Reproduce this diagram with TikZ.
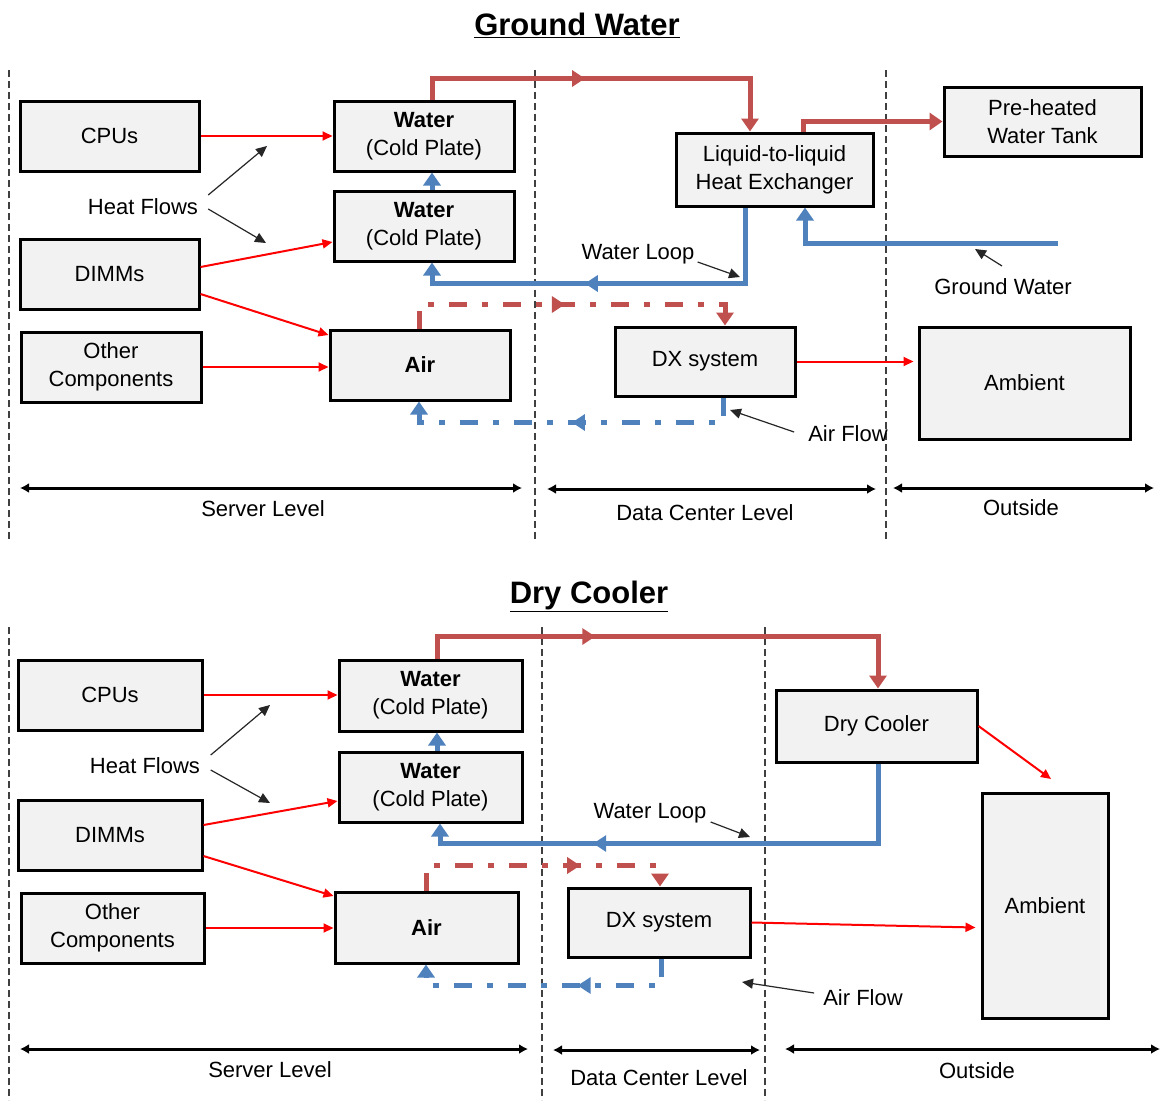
\documentclass[tikz,border=0pt]{standalone}
\usepackage{fontspec}
\setmainfont{Liberation Sans}
\usetikzlibrary{arrows.meta,decorations.markings,calc}
\definecolor{hotc}{HTML}{C0504D}
\definecolor{coldc}{HTML}{4F81BD}
\definecolor{boxfill}{HTML}{F2F2F2}
\definecolor{sepc}{HTML}{404040}
\begin{document}
\begin{tikzpicture}[x=1pt,y=-1pt,
  box/.style={draw=black, line width=3pt, fill=boxfill, inner sep=0pt, align=center,
    font=\fontsize{22}{28}\selectfont},
  lbl/.style={inner sep=1pt, font=\fontsize{22}{27}\selectfont},
  ttl/.style={inner sep=1pt, font=\bfseries\fontsize{31}{36}\selectfont},
  hot/.style={color=hotc, line width=5pt, -{Triangle[length=13pt,width=17pt]}},
  cold/.style={color=coldc, line width=5pt, -{Triangle[length=13pt,width=17pt]}},
  heat/.style={color=red, line width=2pt, -{Triangle[length=10pt,width=9pt]}},
  note/.style={color=black!85, line width=1.2pt, -{Triangle[length=11pt,width=10pt]}},
  level/.style={color=black, line width=3pt, {Latex[length=9pt,width=10pt]}-{Latex[length=9pt,width=10pt]}},
  sep/.style={color=sepc, line width=1.2pt, dash pattern=on 7pt off 4pt},
  dashdot/.style={dash pattern=on 18pt off 15pt on 6pt off 15pt},
  midarr/.style={postaction={decorate}, decoration={markings,
    mark=at position #1 with {\arrow{Triangle[length=13pt,width=16pt]}}}}
]
\useasboundingbox (0,0) rectangle (1161,1103);

% ================= TOP PANEL: GROUND WATER =================
\node[ttl] (tA) at (577,25) {\underline{Ground Water}};

% separators
\coordinate (sA1t) at (9,70);   \coordinate (sA1b) at (9,540);
\coordinate (sA2t) at (535,70); \coordinate (sA2b) at (535,540);
\coordinate (sA3t) at (886,70); \coordinate (sA3b) at (886,540);
\draw[sep] (sA1t) -- (sA1b);
\draw[sep] (sA2t) -- (sA2b);
\draw[sep] (sA3t) -- (sA3b);

% boxes
\node[box, minimum width=179pt, minimum height=70pt] (cpuA) at (109.5,136) {CPUs};
\node[box, minimum width=179pt, minimum height=70pt] (dimmA) at (109.5,274) {DIMMs};
\node[box, minimum width=180pt, minimum height=70pt] (othA) at (111,367) {Other\\Components};
\node[box, minimum width=180pt, minimum height=70pt] (watA1) at (424,136) {\textbf{Water}\\(Cold Plate)};
\node[box, minimum width=180pt, minimum height=70pt] (watA2) at (424,226) {\textbf{Water}\\(Cold Plate)};
\node[box, minimum width=180pt, minimum height=70pt] (airA) at (420,365) {\textbf{Air}};
\node[box, minimum width=197pt, minimum height=73pt] (hxA) at (774.5,169.5) {Liquid-to-liquid\\Heat Exchanger};
\node[box, minimum width=197pt, minimum height=69pt] (tankA) at (1042.5,121.5) {Pre-heated\\Water Tank};
\node[box, minimum width=180pt, minimum height=69pt] (dxA) at (705,361.5) {DX system};
\node[box, minimum width=211pt, minimum height=112pt] (ambA) at (1024.5,383) {Ambient};

% heat flows
\node[lbl] (hfA) at (143,207) {Heat Flows};
\coordinate (hfA1) at (267,146);
\coordinate (hfA2) at (266,243);
\draw[note] ([xshift=9pt,yshift=12pt]hfA.east) -- (hfA1);
\draw[note] ([xshift=9pt,yshift=-2pt]hfA.east) -- (hfA2);

\draw[heat] (cpuA.east) -- (cpuA.east -| watA1.west);
\draw[heat] ([yshift=7pt]dimmA.east) -- ([yshift=-16pt]watA2.west);
\draw[heat] ([yshift=-20pt]dimmA.east) -- ([yshift=30pt]airA.west);
\draw[heat] (othA.east) -- (othA.east -| airA.west);

% water loop
\draw[hot, midarr=0.444] ([xshift=8pt]watA1.north) -- ++(0,-21) -| ([xshift=-24.5pt]hxA.north);
\draw[cold, midarr=0.576] ([xshift=-29.5pt]hxA.south) -- ++(0,76) -| ([xshift=8pt]watA2.south);
\draw[cold] ([xshift=8pt]watA2.north) -- ([xshift=8pt]watA1.south);
\draw[hot] ([xshift=28.5pt]hxA.north) |- (tankA.west);
\coordinate (gwA) at (1058,243);
\draw[cold] (gwA) -| ([xshift=30.5pt]hxA.south);

\node[lbl] (wlA) at (638,254) {Water Loop};
\coordinate (wlpA) at (740,277);
\draw[note] ([xshift=2pt,yshift=-8pt]wlA.east) -- (wlpA);

\node[lbl] (gwlA) at (1003,287) {Ground Water};
\coordinate (gwpA) at (975,249);
\draw[note] ([xshift=-1pt,yshift=21pt]gwlA.center) -- (gwpA);

% air loop
\draw[hot, dashdot, midarr=0.484] ([xshift=-1pt]airA.north) -- ++(0,-24) -| ([xshift=20pt]dxA.north);
\draw[cold, dashdot, midarr=0.503] ([xshift=18pt]dxA.south) -- ++(0,25) -| ([xshift=-1pt]airA.south);
\draw[heat] (dxA.east) -- ($(dxA.east -| ambA.west)+(-4,0)$);

\node[lbl] (afA) at (848,434) {Air Flow};
\coordinate (afpA) at (730,410);
\draw[note] ([xshift=-13pt,yshift=2pt]afA.west) -- (afpA);

% levels
\coordinate (lA1) at (20,488);  \coordinate (lA2) at (522,488);
\coordinate (lA3) at (547,489); \coordinate (lA4) at (876,489);
\coordinate (lA5) at (893,488); \coordinate (lA6) at (1154,488);
\draw[level] (lA1) -- (lA2);
\draw[level] (lA3) -- (lA4);
\draw[level] (lA5) -- (lA6);
\node[lbl] (svA) at (263,509) {Server Level};
\node[lbl] (dcA) at (705,513) {Data Center Level};
\node[lbl] (ouA) at (1021,508) {Outside};

% ================= BOTTOM PANEL: DRY COOLER =================
\node[ttl] (tB) at (589,596) {\underline{Dry Cooler}};

\coordinate (sB1t) at (9,627);   \coordinate (sB1b) at (9,1100);
\coordinate (sB2t) at (542,627); \coordinate (sB2b) at (542,1100);
\coordinate (sB3t) at (765,627); \coordinate (sB3b) at (765,1100);
\draw[sep] (sB1t) -- (sB1b);
\draw[sep] (sB2t) -- (sB2b);
\draw[sep] (sB3t) -- (sB3b);

\node[box, minimum width=184pt, minimum height=70pt] (cpuB) at (110,695) {CPUs};
\node[box, minimum width=184pt, minimum height=70pt] (dimmB) at (110,835) {DIMMs};
\node[box, minimum width=183pt, minimum height=70pt] (othB) at (112.5,928) {Other\\Components};
\node[box, minimum width=183pt, minimum height=71pt] (watB1) at (430.5,695.5) {\textbf{Water}\\(Cold Plate)};
\node[box, minimum width=183pt, minimum height=70pt] (watB2) at (430.5,787) {\textbf{Water}\\(Cold Plate)};
\node[box, minimum width=183pt, minimum height=71pt] (airB) at (426.5,927.5) {\textbf{Air}};
\node[box, minimum width=201pt, minimum height=72pt] (dryB) at (876.5,726) {Dry Cooler};
\node[box, minimum width=182pt, minimum height=69pt] (dxB) at (659,922.5) {DX system};
\node[box, minimum width=126pt, minimum height=225pt] (ambB) at (1045,905.5) {Ambient};

\node[lbl] (hfB) at (145,766) {Heat Flows};
\coordinate (hfB1) at (270,705);
\coordinate (hfB2) at (270,803);
\draw[note] ([xshift=9.5pt,yshift=11pt]hfB.east) -- (hfB1);
\draw[note] ([xshift=9.5pt,yshift=-4pt]hfB.east) -- (hfB2);

\draw[heat] (cpuB.east) -- (cpuB.east -| watB1.west);
\draw[heat] ([yshift=10pt]dimmB.east) -- ([yshift=-14pt]watB2.west);
\draw[heat] ([yshift=-21pt]dimmB.east) -- ([yshift=31.5pt]airB.west);
\draw[heat] (othB.east) -- (othB.east -| airB.west);

\draw[hot, midarr=0.35] ([xshift=6.5pt]watB1.north) -- ++(0,-22) -| ([xshift=1.5pt]dryB.north);
\draw[cold, midarr=0.678] ([xshift=1.5pt]dryB.south) -- ++(0,80) -| ([xshift=9.5pt]watB2.south);
\draw[cold] ([xshift=6.5pt]watB2.north) -- ([xshift=6.5pt]watB1.south);

\node[lbl] (wlB) at (650,813) {Water Loop};
\coordinate (wlpB) at (750,837);
\draw[note] ([xshift=3pt,yshift=-9pt]wlB.east) -- (wlpB);

\draw[hot, dashdot, midarr=0.64] ([xshift=-0.5pt]airB.north) -- ++(0,-25) -| ([xshift=1pt]dxB.north);
\draw[cold, dashdot, midarr=0.39] ([xshift=2pt]dxB.south) -- ++(0,27) -| ([xshift=-0.5pt]airB.south);
\draw[heat] (dxB.east) -- ($(dxB.east -| ambB.west)+(-5,5)$);
\coordinate (dcpB) at (1051,779);
\draw[heat] (dryB.east) -- (dcpB);

\node[lbl] (afB) at (863,998) {Air Flow};
\coordinate (afpB) at (742,982);
\draw[note] ([xshift=-8pt,yshift=5pt]afB.west) -- (afpB);

\coordinate (lB1) at (20,1049);  \coordinate (lB2) at (528,1049);
\coordinate (lB3) at (553,1050); \coordinate (lB4) at (760,1050);
\coordinate (lB5) at (785,1049); \coordinate (lB6) at (1160,1049);
\draw[level] (lB1) -- (lB2);
\draw[level] (lB3) -- (lB4);
\draw[level] (lB5) -- (lB6);
\node[lbl] (svB) at (270,1070) {Server Level};
\node[lbl] (dcB) at (659,1078) {Data Center Level};
\node[lbl] (ouB) at (977,1071) {Outside};
\end{tikzpicture}
\end{document}
